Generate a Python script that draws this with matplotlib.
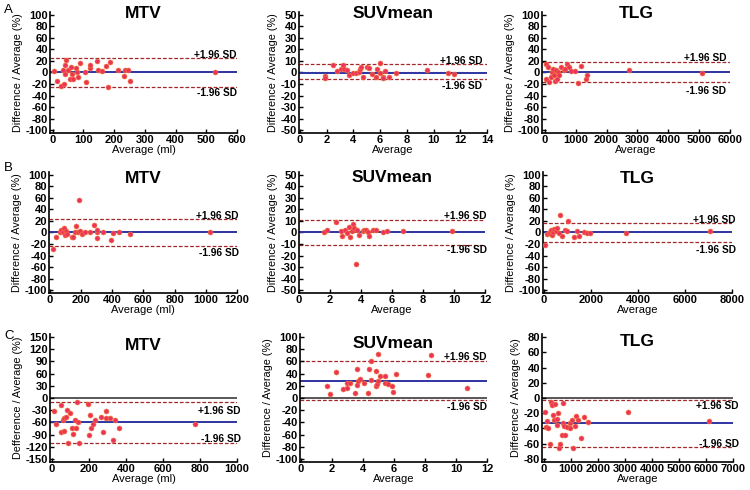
import matplotlib
matplotlib.use('Agg')
import matplotlib.pyplot as plt

plt.rcParams['font.family'] = ['Liberation Sans', 'DejaVu Sans']
plt.rcParams['font.weight'] = 'bold'
plt.rcParams['axes.unicode_minus'] = False

# ---- data: averages (x) and difference / average in % (y)
# row A
a_mtv_x = [5, 13, 26, 34, 37, 40, 42, 40, 51, 56, 60, 62, 67, 76, 80, 83, 89, 105, 108,
           121, 121, 145, 148, 159, 173, 181, 186, 213, 232, 235, 244, 253, 528]
a_mtv_y = [2, -14, -24, 4, -20, 13, 22, -2, 4, -12, 10, -2, -11, 7, 1, -8, 17, 1, -17,
           8, 13, 20, 4, 2, 12, -26, 19, 4, -6, 5, 4, -14, 0]
a_mtv_lines = [1.5, 25, -24.5]          # mean, +1.96 SD, -1.96 SD

a_suv_x = [1.9, 1.9, 2.5, 2.8, 3.1, 3.2, 3.3, 3.5, 3.7, 4.0, 4.2, 4.4, 4.5, 4.6, 4.7,
           5.0, 5.2, 5.4, 5.7, 5.8, 6.0, 6.0, 6.2, 6.2, 6.4, 6.7, 7.2, 9.5, 11.1, 11.5]
a_suv_y = [-2.7, -5, 6.8, 0.9, 3.3, 6.2, 2.7, 1.8, -2, -0.3, -0.3, 0.3, 3.3, 4.7, -4.1,
           4.7, 3.8, -1.2, -4.1, 2.7, 8.3, -0.3, -3.6, -4.4, 0.9, -4.1, -0.3, 1.8, -0.3, -1.2]
a_suv_lines = [-0.8, 7.4, -6.0]

a_tlg_x = [55, 55, 110, 144, 188, 221, 254, 298, 331, 365, 409, 442, 475, 519, 608, 663,
           718, 773, 851, 994, 1072, 1160, 1326, 1381, 2740, 5083]
a_tlg_y = [15, -11, 9, -17, -7, 0.5, 6, -5, -14, 3.5, -11, 0.5, -3.5, 10, 3.5, 6,
           14, 9, 2, 2, -19, 12, -11, -3.5, 3.5, -0.5]
a_tlg_lines = [0, 17.5, -16]

# row B
b_mtv_x = [22, 39, 65, 75, 82, 90, 97, 103, 108, 140, 150, 161, 168, 183, 187, 194, 204,
           226, 258, 286, 301, 301, 305, 344, 394, 404, 441, 516, 1028]
b_mtv_y = [-29, -8, 0, 4.6, 0, 7.5, -4, 3, -2.3, -7, -7, 1.7, 11.6, 1.7, 57, 3, -2.3,
           0, 1.7, 12.8, 0, 4.6, -8.7, 0, -12.8, -1, 1.7, -2.3, 0]
b_mtv_lines = [0, 23.8, -23.2]

b_suv_x = [1.6, 1.8, 2.4, 2.7, 2.8, 2.95, 3.1, 3.2, 3.3, 3.4, 3.5, 3.55, 3.7, 3.75, 3.9,
           4.1, 4.2, 4.35, 4.45, 4.5, 4.8, 4.95, 5.4, 5.7, 6.7, 9.9]
b_suv_y = [0.3, 1.8, 9.2, 0.9, -2.7, 1.8, -0.3, 4.7, -4.1, 0.9, 7.7, 3.8, -27.5, 1.8, -2,
           0.9, 1.8, 1.8, 0.3, -3.3, 2.4, 1.8, 0.3, 0.9, 0.9, 0.9]
b_suv_lines = [0, 11, -11]

b_tlg_x = [71, 143, 214, 257, 314, 357, 400, 428, 500, 543, 643, 686, 786, 886, 971,
           1043, 1286, 1429, 1500, 1714, 1829, 1971, 3500, 7071]
b_tlg_y = [-21, -3, -0.6, 1, 4, -4.6, 1, 5.8, 3, 7, -0.6, 31, -6.4, 4, 2.3,
           20, -7.5, 2.3, -6.4, 1, -0.6, -0.6, -0.6, 2.3]
b_tlg_lines = [0, 16.8, -16.2]

# row C
c_mtv_x = [13, 23, 48, 50, 59, 66, 68, 77, 81, 86, 99, 108, 113, 126, 131, 138, 144, 147,
           197, 203, 206, 210, 221, 233, 264, 275, 293, 293, 314, 329, 341, 364, 776]
c_mtv_y = [-31, -64, -18, -84, -55, -49, -80, -46, -29, -110, -37, -75, -88, -55, -75, -11,
           -59, -111, -15, -91, -42, -73, -63, -55, -47, -84, -33, -49, -49, -104, -55, -75, -65]
c_mtv_lines = [-60, -10, -110]

c_suv_x = [1.7, 1.9, 2.25, 2.7, 3.0, 3.0, 3.2, 3.5, 3.6, 3.6, 3.7, 3.8, 4.1, 4.35, 4.4,
           4.5, 4.5, 4.85, 4.85, 4.9, 5.0, 5.0, 5.1, 5.4, 5.45, 5.6, 5.85, 5.95, 6.15,
           8.2, 8.4, 10.7]
c_suv_y = [19, 6.5, 43, 14.5, 24, 15.6, 24, 9, 47, 21.5, 28, 30.6, 25, 9, 48,
           61, 29, 45, 20, 23.6, 72, 28, 36, 36, 24, 22.6, 19, 10, 40,
           37, 71, 15.6]
c_suv_lines = [28, 61, -2.5]

c_tlg_x = [25, 88, 126, 151, 214, 239, 302, 339, 377, 402, 465, 490, 528, 565, 590, 653,
           691, 716, 754, 779, 842, 942, 967, 1030, 1068, 1156, 1193, 1243, 1382, 1470,
           1633, 3128, 6093]
c_tlg_y = [-18, -38, -30, -40, -60, -5, -9, -22, -29, -8, -36, -27, -20, -66, -60, -48,
           -6, -33, -37, -48, -38, -33, -40, -29, -66, -37, -24, -29, -53, -25,
           -32, -18, -30]
c_tlg_lines = [-33, -2, -64]

titles = ['MTV', 'SUVmean', 'TLG']
xlabels = ['Average (ml)', 'Average', 'Average']
ylabel = 'Difference / Average (%)'
ylabel_c_mtv = 'Defference / Average (%)'
row_letters = ['A', 'B', 'C']

panels = [
    # x, y, lines, xmax, xstep, ytop, ystep
    [(a_mtv_x, a_mtv_y, a_mtv_lines, 600, 100, 100, 20),
     (a_suv_x, a_suv_y, a_suv_lines, 14, 2, 50, 10),
     (a_tlg_x, a_tlg_y, a_tlg_lines, 6000, 1000, 100, 20)],
    [(b_mtv_x, b_mtv_y, b_mtv_lines, 1200, 200, 100, 20),
     (b_suv_x, b_suv_y, b_suv_lines, 12, 2, 50, 10),
     (b_tlg_x, b_tlg_y, b_tlg_lines, 8000, 2000, 100, 20)],
    [(c_mtv_x, c_mtv_y, c_mtv_lines, 1000, 200, 150, 30),
     (c_suv_x, c_suv_y, c_suv_lines, 12, 2, 100, 20),
     (c_tlg_x, c_tlg_y, c_tlg_lines, 7000, 1000, 80, 20)],
]

# ---- layout in pixels
W, H = 750, 490
row_y = [(12, 133), (172, 293), (334, 462)]
col_x = [[(50, 237), (299, 487), (542, 730)],
         [(49, 237), (299, 485), (543, 732)],
         [(50, 237), (300, 487), (542, 733)]]
x_margin = [[0.015, 0.005, 0.015], [0.004, 0.0, 0.004], [0.009, 0.004, 0.011]]
title_y = [[13, 13, 13], [178, 177, 178], [345, 343, 341]]
letter_y = [10, 168, 336]
sd_text_x = [[1.0, 0.975, 0.98], [1.01, 1.01, 1.02], [1.02, 1.0, 1.03]]
sd_text_y = [[(31, -35), (10, -12), (25.7, -31.6)],
             [(29, -35), (14.5, -15.4), (21.4, -29.6)],
             [(-31, -102), (67, -15), (-10, -60)]]

fig = plt.figure(figsize=(W / 100, H / 100), dpi=100)

for r in range(3):
    top, bottom = row_y[r]
    fig.text(4 / W, 1 - letter_y[r] / H, row_letters[r], fontsize=9.5,
             fontweight='normal', va='center', ha='left')
    for c in range(3):
        xs, ys, lines, xmax, xstep, ytop, ystep = panels[r][c]
        left, right = col_x[r][c]
        ax = fig.add_axes([left / W, 1 - bottom / H, (right - left) / W, (bottom - top) / H])
        ax.set_xlim(-x_margin[r][c] * xmax, xmax)
        ax.set_ylim(-1.05 * ytop, 1.05 * ytop)
        ax.set_xticks(range(0, xmax + 1, xstep))
        ax.set_yticks(range(-ytop, ytop + 1, ystep))
        for s in ['top', 'right']:
            ax.spines[s].set_visible(False)
        for s in ['left', 'bottom']:
            ax.spines[s].set_linewidth(1.2)
        ax.tick_params(direction='in', length=3, width=1, pad=1.5, labelsize=8)

        mean, up, lo = lines
        if r == 2:
            ax.axhline(0, color='#4a4a4a', lw=1.3, zorder=1)
        if r == 0 and c == 1:
            ax.plot([0, 12.2], [0, 0], color='#9a9ac8', lw=1, ls=':', zorder=1)
        ax.axhline(up, color='#a0282c', lw=0.9, ls=(0, (3, 1.5)), zorder=1)
        ax.axhline(lo, color='#a0282c', lw=0.9, ls=(0, (3, 1.5)), zorder=1)
        ax.axhline(mean, color='#2e33a0', lw=1.4, zorder=2)
        ax.scatter(xs, ys, s=13, facecolor='#ec3358', edgecolor='#f0803c',
                   linewidth=0.4, zorder=3)

        ty_up, ty_lo = sd_text_y[r][c]
        tx = ax.get_xlim()[0] + sd_text_x[r][c] * (ax.get_xlim()[1] - ax.get_xlim()[0])
        ax.text(tx, ty_up, '+1.96 SD', fontsize=7.3, ha='right', va='center')
        ax.text(tx, ty_lo, '-1.96 SD', fontsize=7.3, ha='right', va='center')

        ax.set_xlabel(xlabels[c], fontsize=8, labelpad=0)
        yl = ylabel_c_mtv if (r == 2 and c == 0) else ylabel
        ax.set_ylabel(yl, fontsize=7.8, labelpad=2)

        fig.text((left + right) / 2 / W, 1 - title_y[r][c] / H, titles[c],
                 fontsize=12.5, ha='center', va='center')

fig.savefig('out.png', dpi=100)
